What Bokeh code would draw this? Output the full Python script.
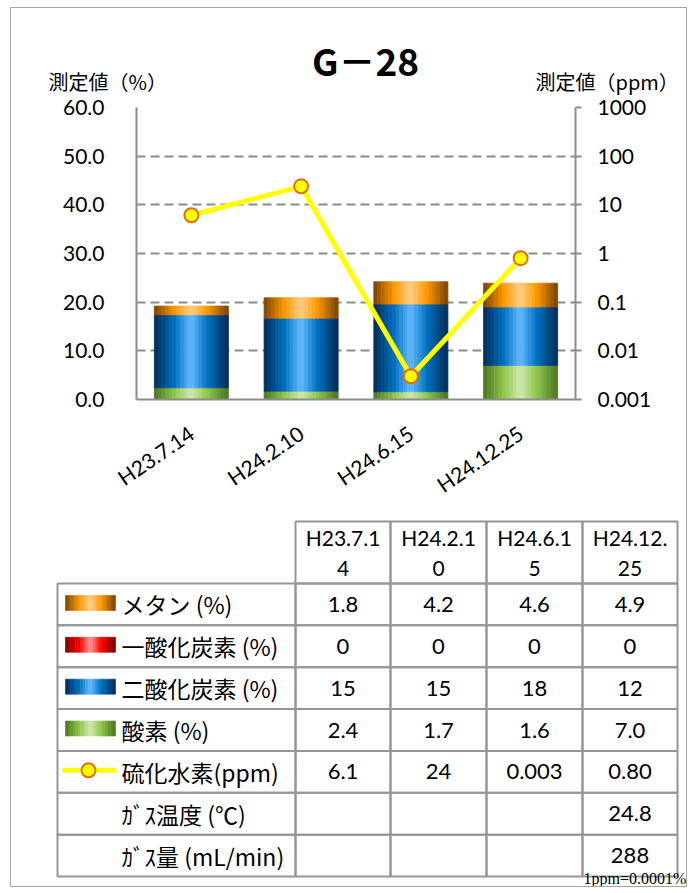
import numpy as np
from bokeh.plotting import figure
from bokeh.layouts import column
from bokeh.models import (Range1d, FactorRange, LogScale, LinearAxis, LogAxis, FixedTicker,
                          NumeralTickFormatter, CustomJSTickFormatter)
from bokeh.transform import dodge
from bokeh.core.properties import value
from bokeh.embed import file_html
from bokeh.resources import INLINE

# ---------------- data ----------------
categories = ["H23.7.14", "H24.2.10", "H24.6.15", "H24.12.25"]
methane = [1.8, 4.2, 4.6, 4.9]      # メタン (%)
co = [0, 0, 0, 0]                   # 一酸化炭素 (%)
co2 = [15, 15, 18, 12]              # 二酸化炭素 (%)
o2 = [2.4, 1.7, 1.6, 7.0]           # 酸素 (%)
h2s = [6.1, 24, 0.003, 0.80]        # 硫化水素 (ppm)
h2s_labels = ["6.1", "24", "0.003", "0.80"]
gas_temp = [None, None, None, 24.8]  # ｶﾞｽ温度 (℃)
gas_flow = [None, None, None, 288]   # ｶﾞｽ量 (mL/min)
left_ticks = [0, 10, 20, 30, 40, 50, 60]
right_ticks = [0.001, 0.01, 0.1, 1, 10, 100, 1000]
right_tick_labels = ["0.001", "0.01", "0.1", "1", "10", "100", "1000"]
title_text = "G－28"
left_axis_title = "測定値（%）"
right_axis_title = "測定値（ppm）"
footnote = "1ppm=0.0001%"

# ---------------- styles ----------------
GRAY = "#8c8c8c"
NUM_FONT = "Lato"
JP_FONT = "Noto Sans CJK JP"
PALETTES = {
    "methane": ("#7a4200", "#ff9900", "#ffcf8a"),
    "co": ("#7a0000", "#ff0000", "#ff9a9a"),
    "co2": ("#002c58", "#0070c0", "#66bcff"),
    "o2": ("#4a7520", "#90c64c", "#d0e8b0"),
}
N_STRIPS = 20


def hex2rgb(h):
    h = h.lstrip("#")
    return np.array([int(h[i:i + 2], 16) for i in (0, 2, 4)], dtype=float)


def gradient(pal, n):
    dark, base, light = (hex2rgb(c) for c in pal)
    pos = [0.0, 0.28, 0.5, 0.72, 1.0]
    cols = [dark, base, light, base, dark]
    out = []
    for i in range(n):
        tt = (i + 0.5) / n
        for k in range(4):
            if pos[k] <= tt <= pos[k + 1]:
                f = (tt - pos[k]) / (pos[k + 1] - pos[k])
                c = cols[k] * (1 - f) + cols[k + 1] * f
                break
        out.append("#%02x%02x%02x" % tuple(int(round(v)) for v in c))
    return out


grads = {k: gradient(v, N_STRIPS) for k, v in PALETTES.items()}

W_FIG = 675

# ---------------- header (title + axis titles) ----------------
H_HEAD = 87
h = figure(width=W_FIG, height=H_HEAD, x_range=Range1d(0, W_FIG), y_range=Range1d(H_HEAD, 0),
           toolbar_location=None, output_backend="svg", min_border=0,
           x_axis_location=None, y_axis_location=None)
h.frame_align = False
h.grid.visible = False
h.outline_line_color = None
h.text(x=[354], y=[51], text=[title_text], text_font=value(JP_FONT),
       text_font_style="bold", text_font_size="37px", text_align="center",
       text_baseline="middle", text_color="black")
h.text(x=[37, 524], y=[73, 73], text=[left_axis_title, right_axis_title], text_font=value(JP_FONT),
       text_font_size="20px", text_align="left", text_baseline="middle", text_color="black")

# ---------------- chart ----------------
H_CHART = 415
p = figure(width=W_FIG, height=H_CHART, x_range=FactorRange(factors=categories, range_padding=0),
           y_range=Range1d(0, 60), toolbar_location=None, output_backend="svg",
           min_border_left=125, min_border_right=111, min_border_top=12, min_border_bottom=109,
           y_axis_location=None)
p.frame_align = False
p.outline_line_color = None
p.background_fill_color = "white"
p.xgrid.visible = False

# stacked values (bottom -> top): o2, co2, co, methane
series = [("o2", o2), ("co2", co2), ("co", co), ("methane", methane)]
bottoms = np.zeros(len(categories))
rows_x, rows_b, rows_t, rows_key = [], [], [], []
for key, vals in series:
    v = np.array(vals, dtype=float)
    for j, c in enumerate(categories):
        if v[j] > 0:
            rows_x.append(c)
            rows_b.append(bottoms[j])
            rows_t.append(bottoms[j] + v[j])
            rows_key.append(key)
    bottoms = bottoms + v

BAR_W = 0.675
sw = BAR_W / N_STRIPS
for i in range(N_STRIPS):
    off = -BAR_W / 2 + (i + 0.5) * sw
    cols_i = [grads[k][i] for k in rows_key]
    src = dict(x=rows_x, b=rows_b, t=rows_t, col=cols_i)
    p.vbar(x=dodge("x", off, range=p.x_range), bottom="b", top="t", width=sw,
           fill_color="col", line_color="col", line_width=0.8, source=src)

# secondary log axis
p.extra_y_ranges = {"ppm": Range1d(0.001, 1000)}
p.extra_y_scales = {"ppm": LogScale()}

p.line(x=categories, y=h2s, y_range_name="ppm", line_color="#ffff00", line_width=5)
p.scatter(x=categories, y=h2s, y_range_name="ppm", size=14, fill_color="#ffff00",
          line_color="#e46c0a", line_width=2)

yl = LinearAxis(ticker=FixedTicker(ticks=left_ticks), formatter=NumeralTickFormatter(format="0.0"))
yl.major_tick_out = 0
yl.major_tick_in = 0
yl.minor_tick_out = 0
yl.minor_tick_in = 0
yl.major_label_standoff = 32
yl.axis_line_color = GRAY
yl.axis_line_width = 2
yl.major_label_text_font = NUM_FONT
yl.major_label_text_font_size = "21px"
yl.major_label_text_color = "black"
p.add_layout(yl, "left")

yr = LogAxis(y_range_name="ppm", ticker=FixedTicker(ticks=right_ticks),
             formatter=CustomJSTickFormatter(args=dict(t=right_ticks, l=right_tick_labels), code="""
                 let best = 0, bd = 1e9;
                 for (let i = 0; i < t.length; i++) {
                     const d = Math.abs(Math.log10(t[i]) - Math.log10(tick));
                     if (d < bd) { bd = d; best = i; }
                 }
                 return l[best];
             """))
yr.major_tick_out = 6
yr.major_tick_in = 0
yr.minor_tick_out = 0
yr.minor_tick_in = 0
yr.major_tick_line_color = GRAY
yr.major_tick_line_width = 2
yr.major_label_standoff = 16
yr.axis_line_color = GRAY
yr.axis_line_width = 2
yr.major_label_text_font = NUM_FONT
yr.major_label_text_font_size = "21px"
yr.major_label_text_color = "black"
p.add_layout(yr, "right")

p.ygrid.ticker = FixedTicker(ticks=left_ticks)
p.ygrid.grid_line_color = GRAY
p.ygrid.grid_line_width = 2
p.ygrid.grid_line_dash = "9 5"

xa = p.xaxis[0]
xa.axis_line_color = GRAY
xa.axis_line_width = 2
xa.major_tick_line_color = None
xa.minor_tick_line_color = None
xa.major_label_orientation = 0.6
xa.major_label_standoff = 25
xa.major_label_text_font = NUM_FONT
xa.major_label_text_font_size = "21px"
xa.major_label_text_color = "black"

# ---------------- table ----------------
H_TAB = 376
t = figure(width=W_FIG, height=H_TAB, x_range=Range1d(0, W_FIG), y_range=Range1d(H_TAB, 0),
           toolbar_location=None, output_backend="svg", min_border=0,
           x_axis_location=None, y_axis_location=None)
t.frame_align = False
t.grid.visible = False
t.outline_line_color = None

COL = [46, 284, 379, 475, 571, 666]
HEAD_TOP, HEAD_BOT = 11, 73
ROW_H = 41.86
TAB_GRAY = "#969696"

# header cells
t.quad(left=COL[1:-1], right=COL[2:], top=[HEAD_TOP] * 4, bottom=[HEAD_BOT] * 4,
       fill_color=None, line_color=TAB_GRAY, line_width=2)
hx = [(COL[k + 1] + COL[k + 2]) / 2 for k in range(4)]
t.text(x=hx, y=[HEAD_TOP + 16] * 4, text=[c[:7] for c in categories], text_font=value(NUM_FONT),
       text_font_size="21px", text_align="center", text_baseline="middle", text_color="black")
t.text(x=hx, y=[HEAD_TOP + 47] * 4, text=[c[7:] for c in categories], text_font=value(NUM_FONT),
       text_font_size="21px", text_align="center", text_baseline="middle", text_color="black")


def fmt1(vals):
    return ["" if v is None else f"{v:.1f}" for v in vals]


def fmt0(vals):
    return ["" if v is None else f"{v:.0f}" for v in vals]


row_labels = ["メタン (%)", "一酸化炭素 (%)", "二酸化炭素 (%)", "酸素 (%)", "硫化水素(ppm)",
              "ｶﾞｽ温度 (℃)", "ｶﾞｽ量 (mL/min)"]
row_values = [fmt1(methane), fmt0(co), fmt0(co2), fmt1(o2), h2s_labels, fmt1(gas_temp), fmt0(gas_flow)]
row_keys = ["methane", "co", "co2", "o2", "h2s", None, None]

nrows = len(row_labels)
lefts, rights, tops, bots = [], [], [], []
for r in range(nrows):
    for k in range(5):
        lefts.append(COL[k]); rights.append(COL[k + 1])
        tops.append(HEAD_BOT + r * ROW_H); bots.append(HEAD_BOT + (r + 1) * ROW_H)
t.quad(left=lefts, right=rights, top=tops, bottom=bots, fill_color=None,
       line_color=TAB_GRAY, line_width=2)

rc = [HEAD_BOT + (r + 0.5) * ROW_H for r in range(nrows)]
t.text(x=[110] * nrows, y=rc, text=row_labels, text_font=value(JP_FONT), text_font_size="23px",
       text_align="left", text_baseline="middle", text_color="black")
vx, vy, vt = [], [], []
for r in range(nrows):
    for k in range(4):
        vx.append(hx[k]); vy.append(rc[r]); vt.append(row_values[r][k])
t.text(x=vx, y=vy, text=vt, text_font=value(NUM_FONT), text_font_size="22px",
       text_align="center", text_baseline="middle", text_color="black")

# legend swatches
SW_L, SW_R, SW_H = 54, 104, 15
sww = (SW_R - SW_L) / N_STRIPS
for r, key in enumerate(row_keys):
    cy = rc[r] - 1.5
    if key in grads:
        t.quad(left=[SW_L + i * sww for i in range(N_STRIPS)],
               right=[SW_L + (i + 1) * sww for i in range(N_STRIPS)],
               top=[cy - SW_H / 2] * N_STRIPS, bottom=[cy + SW_H / 2] * N_STRIPS,
               fill_color=grads[key], line_color=grads[key], line_width=0.6)
    elif key == "h2s":
        t.line(x=[51, 105], y=[cy, cy], line_color="#ffff00", line_width=5)
        t.scatter(x=[77], y=[cy], size=14, fill_color="#ffff00", line_color="#e46c0a", line_width=2)

t.text(x=[572], y=[368], text=[footnote], text_font=value("Liberation Serif"), text_font_size="16px",
       text_align="left", text_baseline="alphabetic", text_color="black")

layout = column(h, p, t, styles={"border": "1px solid #a6a6a6", "margin-left": "10px",
                                  "margin-top": "7px"})
open("out.html", "w").write(file_html(layout, INLINE))
